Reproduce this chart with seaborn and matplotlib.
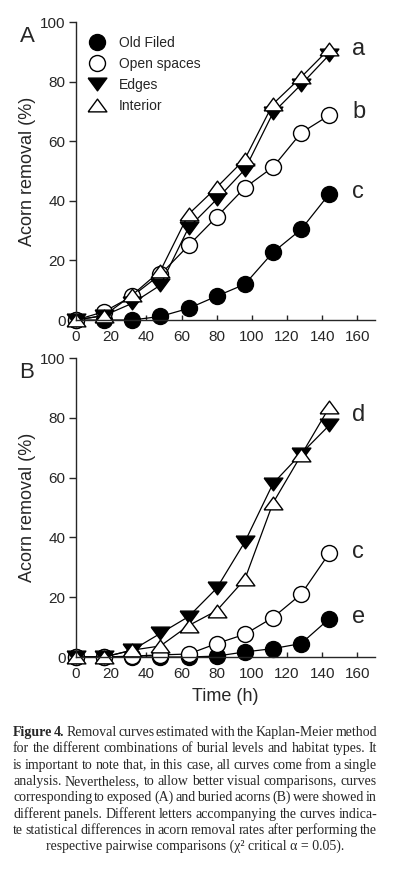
import pandas as pd
import seaborn as sns
import matplotlib.pyplot as plt
from matplotlib.lines import Line2D

# Kaplan-Meier removal curves
hours = [0, 16, 32, 48, 64, 80, 96, 112, 128, 144]
habitats = ['Old Filed', 'Open spaces', 'Edges', 'Interior']

# (A) exposed acorns
a_old = [0, 0, 0, 1.2, 3.9, 8, 12, 22.7, 30.4, 42.3]
a_open = [0, 2.8, 8, 15.3, 25, 34.6, 44.4, 51.3, 62.8, 68.7]
a_edges = [0, 1.5, 5.6, 11.7, 31, 40.5, 50.5, 69.5, 79, 89]
a_interior = [0, 1.5, 8.4, 16.5, 35.5, 44.5, 54, 72.5, 81.5, 91]

# (B) buried acorns
b_old = [0, 0, 0, 0, 0, 0.3, 1.7, 2.8, 4.5, 12.8]
b_open = [0, 0, 0.3, 0.7, 1, 4.5, 7.6, 13.2, 21, 34.7]
b_edges = [0, 0, 2.3, 7.9, 13.5, 23, 38.5, 58, 68, 77.5]
b_interior = [0, 0, 2.3, 3.7, 10.5, 15.5, 26, 51.5, 67.5, 83.5]

letters_a = ['a', 'b', 'c']
letters_b = ['d', 'c', 'e']


def long_df(series):
    rows = []
    for h, vals in zip(habitats, series):
        for t, v in zip(hours, vals):
            rows.append({'Time (h)': t, 'removal': v, 'habitat': h})
    return pd.DataFrame(rows)


df_a = long_df([a_old, a_open, a_edges, a_interior])
df_b = long_df([b_old, b_open, b_edges, b_interior])

sns.set_style('ticks')
plt.rcParams['font.family'] = ['Liberation Sans', 'DejaVu Sans']

down_tri = [(-1, 0.68), (1, 0.68), (0, -0.68), (-1, 0.68)]
up_tri = [(-1, -0.68), (1, -0.68), (0, 0.68), (-1, -0.68)]
styles = {
    'Old Filed': dict(marker='o', markersize=11.5, markerfacecolor='black'),
    'Open spaces': dict(marker='o', markersize=11.5, markerfacecolor='white'),
    'Edges': dict(marker=down_tri, markersize=13.5, markerfacecolor='black'),
    'Interior': dict(marker=up_tri, markersize=13.5, markerfacecolor='white'),
}

fig = plt.figure(figsize=(3.94, 8.71), dpi=100)
ax_a = fig.add_axes([76 / 394, 1 - 320 / 871, 299 / 394, 298 / 871])
ax_b = fig.add_axes([76 / 394, 1 - 657 / 871, 299 / 394, 299 / 871])

for ax, df, tag in [(ax_a, df_a, 'A'), (ax_b, df_b, 'B')]:
    for h in habitats:
        sns.lineplot(data=df[df.habitat == h], x='Time (h)', y='removal', ax=ax,
                     color='black', linewidth=0.9, markeredgecolor='black',
                     markeredgewidth=1.0, errorbar=None, legend=False,
                     clip_on=False, **styles[h])
    ax.set_xlim(0, 170)
    ax.set_ylim(0, 100)
    ax.set_xticks(range(0, 161, 20))
    ax.set_yticks(range(0, 101, 20))
    ax.tick_params(axis='x', direction='in', length=3.5, width=1, pad=7, labelsize=11)
    ax.tick_params(axis='y', direction='out', length=5, width=1, pad=2.5, labelsize=11)
    for s in ['left', 'bottom']:
        ax.spines[s].set_linewidth(1)
    sns.despine(ax=ax)
    ax.set_ylabel('Acorn removal (%)', fontsize=13, labelpad=3)
    ax.set_xlabel('')
    ax.text(-0.164, 0.953, tag, transform=ax.transAxes, fontsize=16,
            ha='center', va='center')

ax_b.set_xlabel('Time (h)', fontsize=13, labelpad=5)

for lab, y in zip(letters_a, [88.9, 67.8, 40.9]):
    ax_a.text(157, y, lab, fontsize=17, ha='left', va='baseline')
for lab, y in zip(letters_b, [79, 33.1, 11.4]):
    ax_b.text(157, y, lab, fontsize=17, ha='left', va='baseline')

handles = [Line2D([], [], linestyle='none', color='black', markeredgecolor='black',
                  markeredgewidth=1.0, **styles[h]) for h in habitats]
ax_a.legend(handles, habitats, loc='upper left', bbox_to_anchor=(0.037, 0.953),
            frameon=False, borderpad=0, borderaxespad=0, handlelength=1.4,
            handletextpad=0.9, labelspacing=0.5, fontsize=10)

# caption, justified by hand
caption = [
    "Figure 4. Removal curves estimated with the Kaplan-Meier method",
    "for the different combinations of burial levels and habitat types. It",
    "is important to note that, in this case, all curves come from a single",
    "analysis. Nevertheless, to allow better visual comparisons, curves",
    "corresponding to exposed (A) and buried acorns (B) were showed in",
    "different panels. Different letters accompanying the curves indica-",
    "te statistical differences in acorn removal rates after performing the",
    "respective pairwise comparisons (\u03c7\u00b2 critical \u03b1 = 0.05).",
]
serif = ['Liberation Serif', 'DejaVu Serif']
renderer = fig.canvas.get_renderer()
x0, x1 = 13, 377
for i, line in enumerate(caption):
    y = 1 - (736 + 16.3 * i) / 871
    if i == len(caption) - 1:
        fig.text(195 / 394, y, line, ha='center', va='baseline', fontsize=10, family=serif)
        continue
    words = line.split(' ')
    texts = []
    for j, w in enumerate(words):
        weight = 'bold' if (i == 0 and j < 2) else 'normal'
        texts.append(fig.text(0, y, w, va='baseline', fontsize=10, family=serif,
                              fontweight=weight))
    widths = [t.get_window_extent(renderer).width for t in texts]
    gap = (x1 - x0 - sum(widths)) / (len(words) - 1)
    x = x0
    for t, w in zip(texts, widths):
        t.set_x(x / 394)
        x += w + gap

fig.savefig('out.png', dpi=100)
